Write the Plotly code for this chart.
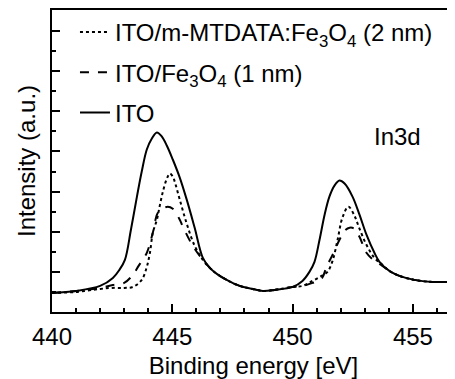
import plotly.graph_objects as go

# ---- data ----
ito_x = [440.0, 441.0, 442.0, 442.53, 442.8, 443.03, 443.28, 443.53, 443.73, 443.94, 444.15, 444.36,
         444.56, 444.77, 445.02, 445.31, 445.6, 445.93, 446.27, 446.56, 446.85, 447.26, 447.8, 448.34,
         448.76, 449.25, 450.0, 450.41, 450.7, 450.91, 451.12, 451.33, 451.53, 451.74, 451.95, 452.16,
         452.49, 452.78, 453.07, 453.4, 453.61, 454.02, 454.44, 455.06, 455.8, 456.7]
ito_y = [0.95, 1.05, 1.3, 1.7, 2.1, 2.6, 4.1, 5.75, 7.0, 8.1, 8.65, 8.95,
         8.75, 8.3, 7.6, 6.7, 5.6, 4.2, 2.7, 2.2, 1.9, 1.6, 1.3, 1.15,
         1.05, 1.1, 1.25, 1.55, 2.0, 2.5, 3.6, 4.85, 5.75, 6.3, 6.55, 6.4,
         5.75, 4.85, 3.85, 2.95, 2.5, 2.05, 1.8, 1.6, 1.5, 1.5]

mtdata_x = [440.0, 441.0, 442.0, 442.5, 443.0, 443.36, 443.73, 443.94, 444.07, 444.19, 444.36, 444.48,
            444.61, 444.76, 444.9, 445.02, 445.1, 445.31, 445.6, 445.93, 446.27, 446.56, 446.85, 447.26,
            447.8, 448.34, 448.76, 449.25, 450.0, 450.41, 450.83, 451.2, 451.45, 451.66, 451.87, 452.07,
            452.32, 452.57, 452.78, 453.07, 453.4, 453.73, 454.02, 454.44, 455.06, 455.8, 456.7]
mtdata_y = [0.95, 1.0, 1.15, 1.2, 1.2, 1.25, 1.6, 2.25, 2.95, 3.95, 4.6, 5.3,
            6.0, 6.6, 6.9, 6.75, 6.5, 5.6, 4.4, 3.3, 2.6, 2.2, 1.9, 1.6,
            1.3, 1.15, 1.05, 1.1, 1.25, 1.3, 1.55, 1.8, 2.0, 2.55, 3.6, 4.7,
            5.25, 4.8, 4.15, 3.35, 2.7, 2.35, 2.05, 1.8, 1.6, 1.5, 1.5]

fe3o4_x = [440.0, 441.0, 442.0, 442.53, 443.0, 443.36, 443.6, 443.94, 444.19, 444.4, 444.61, 444.81,
           445.02, 445.31, 445.44, 445.85, 446.27, 446.56, 446.85, 447.26, 447.8, 448.34, 448.76, 449.25,
           450.0, 450.41, 450.83, 451.2, 451.41, 451.66, 451.95, 452.16, 452.37, 452.57, 452.78, 453.07,
           453.4, 453.73, 454.02, 454.44, 455.06, 455.8, 456.7]
fe3o4_y = [0.95, 1.05, 1.2, 1.35, 1.45, 1.85, 2.3, 2.95, 3.95, 4.95, 5.15, 5.25,
           5.15, 4.6, 4.25, 3.3, 2.6, 2.2, 1.9, 1.6, 1.3, 1.15, 1.05, 1.1,
           1.25, 1.3, 1.45, 1.65, 2.25, 2.85, 3.6, 4.05, 4.2, 4.15, 3.75, 2.95,
           2.55, 2.3, 2.05, 1.8, 1.6, 1.5, 1.5]

series_names = ["ITO/m-MTDATA:Fe<sub>3</sub>O<sub>4</sub> (2 nm)",
                "ITO/Fe<sub>3</sub>O<sub>4</sub> (1 nm)",
                "ITO"]
x_ticks = [440, 445, 450, 455]

FONT = "Liberation Sans, Arial, sans-serif"

fig = go.Figure()
fig.add_trace(go.Scatter(x=mtdata_x, y=mtdata_y, mode="lines", name=series_names[0],
                         legendgroup="a", line=dict(color="black", width=2, dash="dot", shape="spline")))
fig.add_trace(go.Scatter(x=fe3o4_x, y=fe3o4_y, mode="lines", name=series_names[1],
                         legendgroup="b", line=dict(color="black", width=2, dash="dash", shape="spline")))
fig.add_trace(go.Scatter(x=ito_x, y=ito_y, mode="lines", name=series_names[2],
                         legendgroup="c", line=dict(color="black", width=2, shape="spline")))

fig.add_annotation(x=454.35, y=8.75, text="In3d", showarrow=False, xref="x", yref="y",
                   font=dict(size=24, color="black", family=FONT))

# The page body has an 8px default margin, so the figure is sized/offset to compensate.
fig.update_layout(
    width=447, height=371,
    margin=dict(l=44, r=0, t=2, b=67),
    paper_bgcolor="white", plot_bgcolor="white",
    font=dict(family=FONT, size=24, color="black"),
    showlegend=True,
    legend=dict(x=0.057, y=1.0, xanchor="left", yanchor="top", bgcolor="rgba(0,0,0,0)",
                font=dict(size=24), traceorder="grouped", tracegroupgap=6,
                itemwidth=30),
    xaxis=dict(range=[440, 456.75], showgrid=False, zeroline=False, automargin=False,
               showline=True, linecolor="black", linewidth=2, mirror=True,
               tickmode="array", tickvals=x_ticks, ticktext=[str(v) for v in x_ticks],
               ticks="inside", ticklen=8, tickwidth=2, tickcolor="black",
               minor=dict(dtick=1, ticks="inside", ticklen=4, tickwidth=2, tickcolor="black", showgrid=False),
               tickfont=dict(size=24), ticklabelstandoff=2,
               title=dict(text="Binding energy [eV]", font=dict(size=24), standoff=11)),
    yaxis=dict(range=[0, 15.05], showgrid=False, zeroline=False, automargin=False,
               showline=True, linecolor="black", linewidth=2, mirror=False,
               tickmode="linear", tick0=0, dtick=2, showticklabels=False,
               ticks="inside", ticklen=8, tickwidth=2, tickcolor="black",
               minor=dict(dtick=2, tick0=1, ticks="inside", ticklen=4, tickwidth=2, tickcolor="black", showgrid=False),
               title=dict(text="Intensity (a.u.)", font=dict(size=24), standoff=8)),
)

fig.write_html("out.html")
